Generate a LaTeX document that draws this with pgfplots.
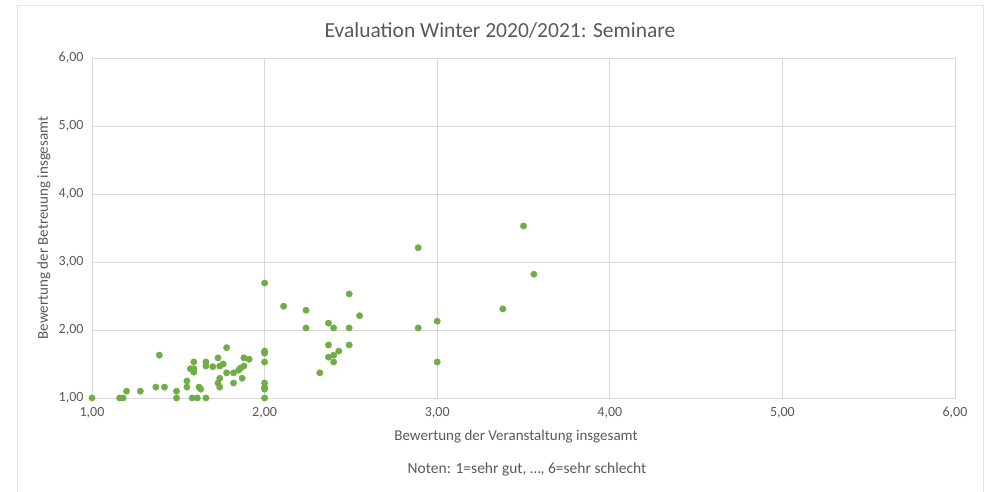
\documentclass[border=0pt]{standalone}
\usepackage{fontspec}
\setmainfont{Carlito}
\usepackage{pgfplots}
\pgfplotsset{compat=1.18}
\definecolor{dotgreen}{RGB}{112,173,71}
\definecolor{gridgray}{RGB}{217,217,217}
\definecolor{txtgray}{RGB}{89,89,89}
\definecolor{framegray}{RGB}{228,228,228}
\begin{document}
\begin{tikzpicture}[x=1pt,y=1pt]
\useasboundingbox (0,0) rectangle (989,492);
\draw[framegray, line width=1pt] (17.5,-2) -- (17.5,486) -- (983,486) -- (983,-2);
\begin{axis}[
  at={(92pt,94pt)}, anchor=south west,
  scale only axis, width=863pt, height=340pt,
  xmin=1, xmax=6, ymin=1, ymax=6,
  xtick={1,2,3,4,5,6}, ytick={1,2,3,4,5,6},
  grid=major,
  major grid style={gridgray, line width=0.9pt},
  axis line style={gridgray, line width=0.9pt},
  major tick length=0pt,
  tick label style={font=\fontsize{14}{16}\selectfont, text=txtgray},
  /pgf/number format/.cd, fixed, fixed zerofill, precision=2, use comma, assume math mode=true,
  /pgfplots/.cd,
  xticklabel style={yshift=-6pt},
  yticklabel style={xshift=-5pt},
  clip=false,
]
\addplot[only marks, mark=*, mark size=3.2pt, mark options={draw=dotgreen, fill=dotgreen}] table {
x y
1.00 1.00
1.16 1.00
1.18 1.00
1.20 1.10
1.28 1.10
1.39 1.63
1.37 1.16
1.42 1.16
1.49 1.10
1.49 1.00
1.55 1.25
1.55 1.16
1.57 1.43
1.59 1.43
1.59 1.53
1.59 1.38
1.58 1.00
1.61 1.00
1.62 1.16
1.63 1.13
1.66 1.00
1.66 1.53
1.66 1.47
1.70 1.46
1.73 1.59
1.74 1.47
1.76 1.50
1.78 1.74
1.78 1.37
1.74 1.29
1.73 1.22
1.74 1.16
1.82 1.37
1.82 1.22
1.85 1.41
1.86 1.44
1.88 1.47
1.87 1.29
1.88 1.59
1.91 1.57
2.00 1.69
2.00 1.66
2.00 1.53
2.00 1.22
2.00 1.16
2.00 1.13
2.00 1.00
2.00 2.69
2.11 2.35
2.24 2.29
2.24 2.03
2.37 2.10
2.40 2.03
2.49 2.53
2.49 2.03
2.55 2.21
2.37 1.78
2.49 1.78
2.43 1.69
2.40 1.63
2.37 1.60
2.40 1.53
2.32 1.37
2.89 3.21
3.50 3.53
3.56 2.82
3.38 2.31
3.00 2.13
2.89 2.03
3.00 1.53
};
\end{axis}
\node[text=txtgray, font=\fontsize{21.5}{24}\selectfont] at (500,461) {Evaluation Winter 2020/2021: Seminare};
\node[text=txtgray, font=\fontsize{15}{18}\selectfont] at (516,55) {Bewertung der Veranstaltung insgesamt};
\node[text=txtgray, font=\fontsize{15}{18}\selectfont, rotate=90] at (44,264) {Bewertung der Betreuung insgesamt};
\node[text=txtgray, font=\fontsize{15.5}{18}\selectfont] at (527,23) {Noten: 1=sehr gut, \dots, 6=sehr schlecht};
\end{tikzpicture}
\end{document}
